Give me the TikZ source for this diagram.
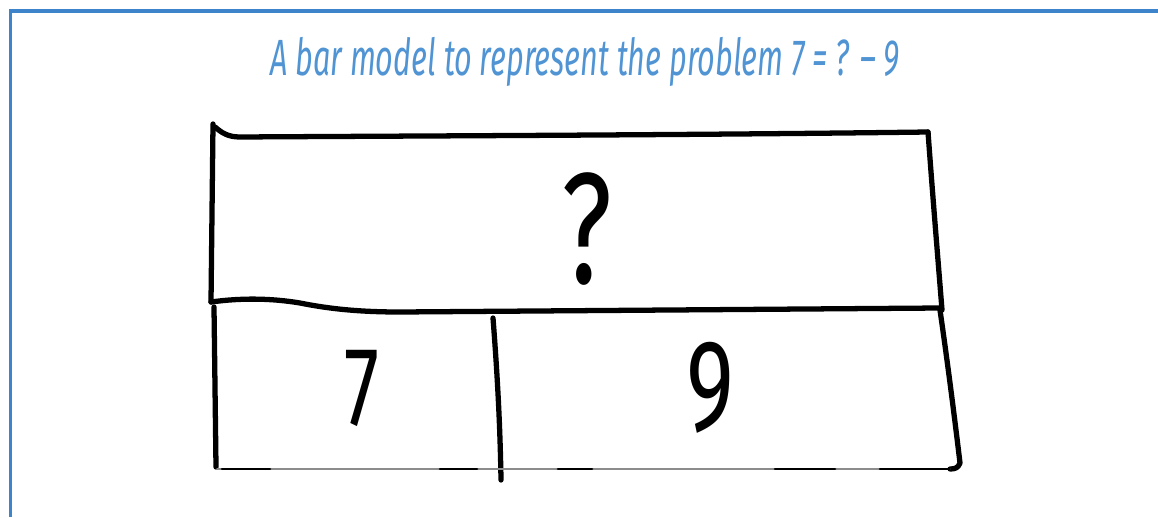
\documentclass[tikz,border=0pt]{standalone}
\usepackage{fontspec}
\newfontfamily\titlefont[FakeStretch=0.6]{Fira Sans}
\newfontfamily\handfont[FakeStretch=0.7]{Fira Sans}
\usetikzlibrary{positioning}
\definecolor{frameblue}{RGB}{62,132,202}
\definecolor{titleblue}{RGB}{80,148,212}

\begin{document}
\begin{tikzpicture}[
    x=0.02cm, y=-0.02cm,
    pen/.style={line width=3pt, line cap=round, line join=round},
    faint/.style={line width=1.1pt, black!45, line cap=round},
    handtext/.style={font=\handfont\fontsize{#1}{#1}\selectfont, inner sep=0pt}
]
\useasboundingbox (0,0) rectangle (1158,517);
% frame
\draw[frameblue, line width=2.2pt] (10.5,517) -- (10.5,11) -- (1158,11);
\node[font=\titlefont\itshape\fontsize{29}{31}\selectfont, text=titleblue] (title) at (585,62) {A bar model to represent the problem 7 = ? – 9};
% whole bar
\draw[pen] (215,127) .. controls (222,133) and (228,137) .. (240,137) .. controls (400,136) and (700,135) .. (928,132);
\draw[pen] (213,124) -- (211,302);
\draw[pen] (928,132) .. controls (933,200) and (938,260) .. (942,310);
\draw[pen] (211,302) .. controls (240,298) and (270,298) .. (300,303) .. controls (330,309) and (360,312) .. (400,312) -- (940,308);
% parts
\draw[pen] (214,307) -- (216,467);
\draw[pen] (493,318) .. controls (497,370) and (500,420) .. (501,480);
\draw[pen] (940,310) .. controls (950,380) and (956,430) .. (960,463) .. controls (958,468) and (955,469) .. (950,469);
\draw[faint] (217,469) -- (950,469);
\foreach \a/\b in {222/270, 440/477, 558/592, 775/835, 880/950}
  \draw[pen, line width=1.5pt] (\a,469) -- (\b,469);
\node[handtext=90] (whole) at (587,229) {?};
\node[handtext=64] (part7) at (362,388) {7};
\node[handtext=74] (part9) at (710,388) {9};
\end{tikzpicture}
\end{document}
